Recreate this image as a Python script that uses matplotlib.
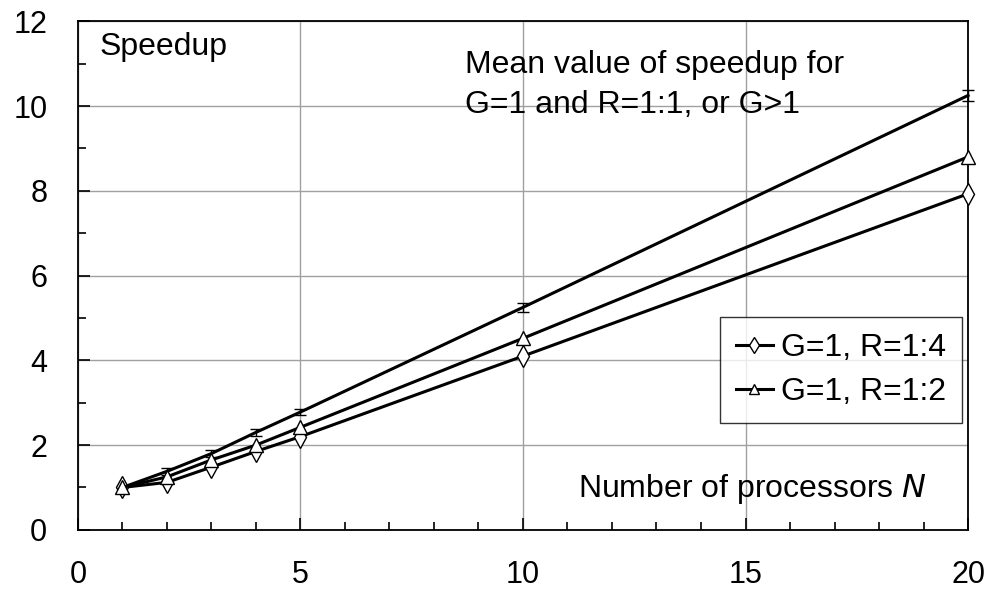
import numpy as np
import matplotlib
matplotlib.use("Agg")
import matplotlib.pyplot as plt
from matplotlib.ticker import MultipleLocator

plt.rcParams["font.family"] = ["Liberation Sans", "DejaVu Sans"]

n_proc = [1, 2, 3, 4, 5, 10, 20]
mean_speedup = [1.0, 1.38, 1.8, 2.3, 2.78, 5.25, 10.25]
mean_err = [0.0, 0.08, 0.08, 0.08, 0.08, 0.1, 0.12]
speedup_r14 = [1.0, 1.12, 1.48, 1.85, 2.2, 4.1, 7.93]
speedup_r12 = [1.0, 1.25, 1.65, 2.0, 2.42, 4.52, 8.8]

fig = plt.figure(figsize=(9.99, 5.92), dpi=100)
ax = fig.add_axes([0.078, 0.105, 0.891, 0.859])

eb = ax.errorbar(n_proc, mean_speedup, yerr=mean_err, color="black", lw=2.2,
                 elinewidth=1.0, capsize=4, capthick=1.0, zorder=3)
for art in eb.lines[1] + eb.lines[2]:
    art.set_clip_on(False)
eb.lines[0].set_clip_on(False)
ax.plot(n_proc, speedup_r14, color="black", lw=2.2, marker="d", ms=11,
        mfc="white", mec="black", mew=1.0, label="G=1, R=1:4", zorder=4,
        clip_on=False)
ax.plot(n_proc, speedup_r12, color="black", lw=2.2, marker="^", ms=10,
        mfc="white", mec="black", mew=1.0, label="G=1, R=1:2", zorder=4,
        clip_on=False)

ax.set_xlim(0, 20)
ax.set_ylim(0, 12)
ax.xaxis.set_major_locator(MultipleLocator(5))
ax.xaxis.set_minor_locator(MultipleLocator(1))
ax.yaxis.set_major_locator(MultipleLocator(2))
ax.yaxis.set_minor_locator(MultipleLocator(1))
ax.tick_params(which="both", direction="in", labelsize=22, width=1.2)
ax.tick_params(which="major", length=8.5)
ax.tick_params(which="minor", length=6)
ax.tick_params(axis="x", pad=22)
ax.tick_params(axis="y", pad=22)
ax.grid(True, which="major", color="#a0a0a0", lw=1.0)
ax.set_axisbelow(True)
for s in ax.spines.values():
    s.set_linewidth(1.3)

ax.text(0.49, 11.2, "Speedup", fontsize=23, va="baseline", ha="left")
ax.text(8.7, 10.78, "Mean value of speedup for", fontsize=23,
        va="baseline", ha="left")
ax.text(8.7, 9.83, "G=1 and R=1:1, or G>1", fontsize=23,
        va="baseline", ha="left")
ax.text(19.08, 0.78, "Number of processors $\\mathit{N}$", fontsize=23,
        va="baseline", ha="right")

leg = ax.legend(loc="upper right", bbox_to_anchor=(0.993, 0.4185),
                fontsize=23, frameon=True, fancybox=False, edgecolor="black",
                handlelength=1.15, handletextpad=0.25, borderpad=0.5,
                labelspacing=0.45, markerscale=0.75, borderaxespad=0)
leg.get_frame().set_linewidth(1.0)

fig.savefig("out.png", dpi=100)
